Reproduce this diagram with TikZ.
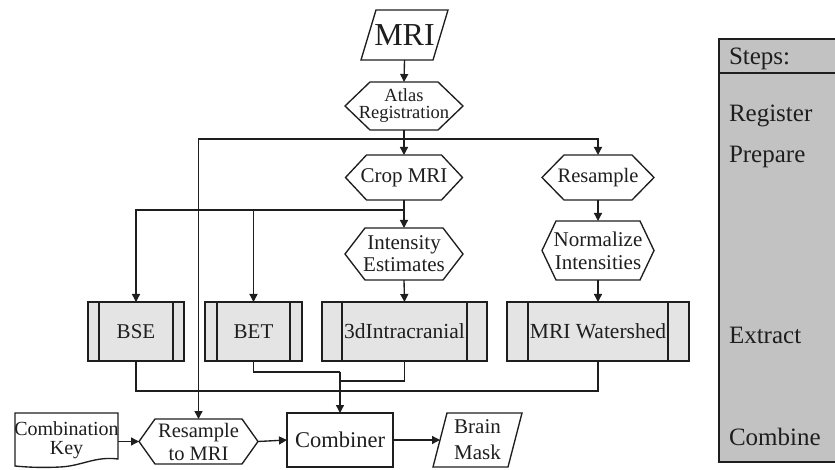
\documentclass[tikz,border=0pt]{standalone}
\usepackage{fontspec}
\setmainfont{Liberation Serif}
\usetikzlibrary{arrows.meta}
\newcommand\fsz[2]{\fontsize{#1}{#2}\selectfont}
\newcommand\hexframe[2]{\draw (#1.west) -- ([xshift=#2]#1.north west) -- ([xshift=-#2]#1.north east) -- (#1.east) -- ([xshift=-#2]#1.south east) -- ([xshift=#2]#1.south west) -- cycle;}
\newcommand\procbars[2]{\draw ([xshift=#2]#1.north west) -- ([xshift=#2]#1.south west); \draw ([xshift=-#2]#1.north east) -- ([xshift=-#2]#1.south east);}
\newcommand\paraframe[2]{\draw ([xshift=#2]#1.north west) -- (#1.north east) -- ([xshift=-#2]#1.south east) -- (#1.south west) -- cycle;}
\definecolor{ink}{HTML}{1E1E1E}
\definecolor{boxfill}{HTML}{E4E4E4}
\definecolor{panelfill}{HTML}{C2C2C2}
\begin{document}
\begin{tikzpicture}[x=1pt,y=-1pt,line width=1.35pt,draw=ink,
  base/.style={inner sep=0pt,outer sep=0pt,align=center,text=ink},
  hexbox/.style={base},
  procbox/.style={base,draw=ink,fill=boxfill,minimum height=59pt},
  arr/.style={-{Triangle[length=8pt,width=8pt]}},
  steptext/.style={base,anchor=base west,font=\fsz{25}{27}}]
\useasboundingbox (0,0) rectangle (835,470);

% Steps panel
\draw[fill=panelfill] (719,39) rectangle (845,462);
\draw[line width=1.8pt] (719,73) -- (845,73);
\node[steptext] (sSteps) at (729,65) {Steps:};
\node[steptext] (sReg) at (729,122) {Register};
\node[steptext] (sPrep) at (729,163) {Prepare};
\node[steptext] (sExt) at (729,343) {Extract};
\node[steptext] (sComb) at (729,445) {Combine};

% nodes
\node[base,minimum width=87pt,minimum height=50pt,font=\fsz{32}{34}] (mri) at (404.5,35) {MRI};
\paraframe{mri}{15}
\node[hexbox,minimum width=118pt,minimum height=48pt,font=\fsz{18.5}{17}] (atlas) at (404,106) {Atlas\\Registration};
\hexframe{atlas}{25}
\node[hexbox,minimum width=117pt,minimum height=45pt,font=\fsz{21}{23}] (crop) at (404,177.5) {Crop MRI};
\hexframe{crop}{21}
\node[hexbox,minimum width=112pt,minimum height=45pt,font=\fsz{20.5}{23}] (resamp) at (598,177.5) {Resample};
\hexframe{resamp}{22}
\node[hexbox,minimum width=118pt,minimum height=52pt,font=\fsz{21}{22}] (inten) at (404,254) {Intensity\\Estimates};
\hexframe{inten}{20}
\node[hexbox,minimum width=112pt,minimum height=59pt,font=\fsz{21}{23}] (norm) at (598,250.5) {Normalize\\Intensities};
\hexframe{norm}{14}

\node[procbox,minimum width=96pt,font=\fsz{21}{23}] (bse) at (136,331.5) {BSE};
\procbars{bse}{11}
\node[procbox,minimum width=97pt,font=\fsz{21}{23}] (bet) at (253.5,331.5) {BET};
\procbars{bet}{12}
\node[procbox,minimum width=165pt,font=\fsz{21.5}{23}] (intra) at (404.5,331.5) {3dIntracranial};
\procbars{intra}{20}
\node[procbox,minimum width=182pt,font=\fsz{21.5}{23}] (mriw) at (598,331.5) {MRI Watershed};
\procbars{mriw}{21}

\draw (15,413) -- (118,413) -- (118,459) .. controls (95,456) and (82,466) .. (60,467) .. controls (40,468) and (25,467) .. (15,466) -- cycle;
\node[base,font=\fsz{20}{19}] (ckey) at (66.5,440) {Combination\\Key};
\coordinate (ckeyE) at (118,441.5);
\node[hexbox,minimum width=119pt,minimum height=45pt,font=\fsz{20.5}{23}] (resmri) at (198.5,441.5) {Resample\\to MRI};
\hexframe{resmri}{16}
\node[base,draw=ink,minimum width=106pt,minimum height=54pt,font=\fsz{22.5}{24}] (comb) at (340,440) {Combiner};
\node[base,minimum width=89pt,minimum height=54pt,font=\fsz{21}{26}] (bm) at (477.5,440) {Brain\\Mask};
\paraframe{bm}{14}

% connectors
\draw[arr] (mri.south) -- (atlas.north);
\draw[arr] (atlas.south) -- (crop.north);
\coordinate (j1) at (404,139);
\draw[arr] (j1) -| (resamp.north);
\draw[arr] (j1) -| (resmri.north);
\draw[arr] (crop.south) -- (inten.north);
\coordinate (j2) at (404,210);
\draw[arr] (j2) -| (bse.north);
\draw[arr] (j2) -| (bet.north);
\draw[arr] (resamp.south) -- (norm.north);
\draw[arr] (inten.south) -- (intra.north);
\draw[arr] (norm.south) -- (mriw.north);
\coordinate (m1) at (340,372);
\coordinate (m2) at (340,381);
\coordinate (m3) at (340,391);
\draw (bet.south) |- (m1);
\draw (intra.south) |- (m2);
\draw (bse.south) |- (m3) -| (mriw.south);
\draw[arr] (m1) -- (comb.north);
\draw[arr] (ckeyE) -- (resmri.west);
\draw[arr] (resmri.east) -- (comb.west);
\draw[arr] (comb.east) -- ([xshift=7pt]bm.west);
\end{tikzpicture}
\end{document}
